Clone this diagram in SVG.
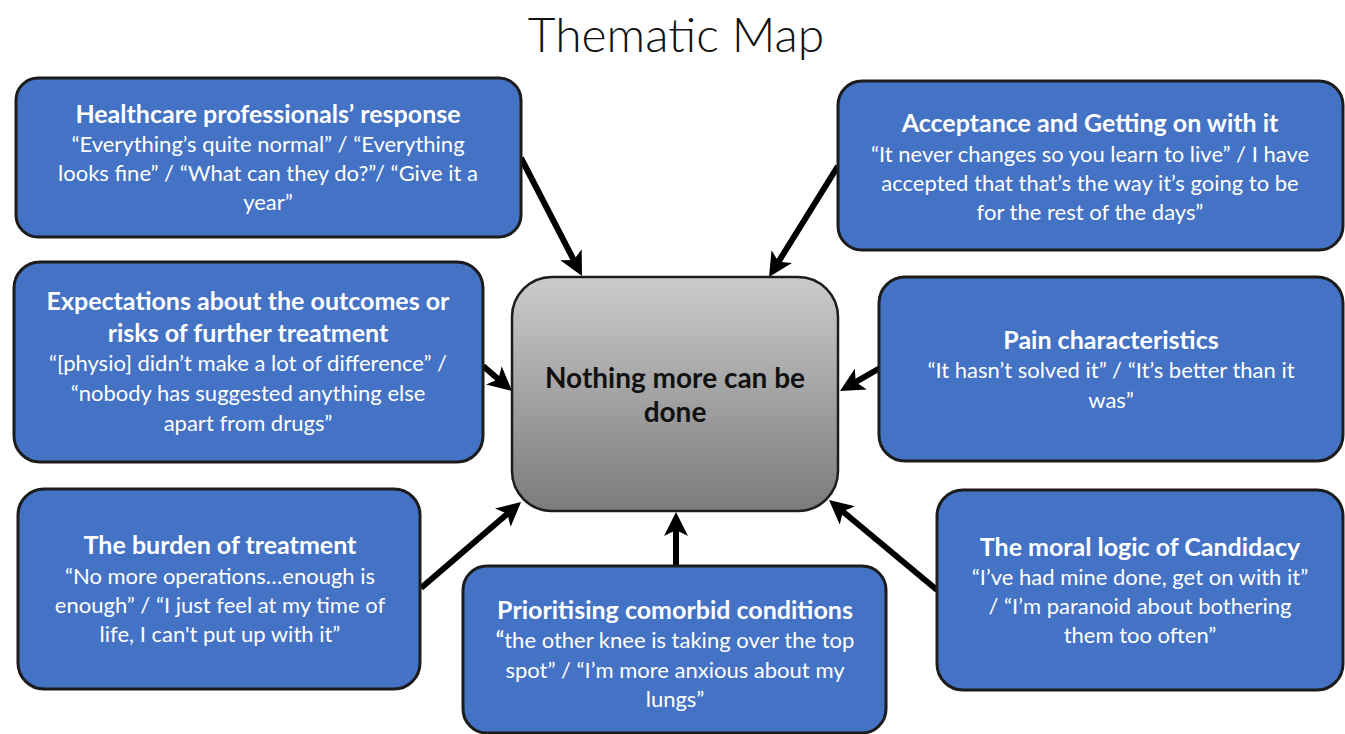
<svg xmlns="http://www.w3.org/2000/svg" width="1345" height="734" viewBox="0 0 1345 734">
  <defs>
    <linearGradient id="coreFill" x1="0" y1="0" x2="0" y2="1">
      <stop offset="0" stop-color="#cbcbcb"/>
      <stop offset="1" stop-color="#7b7b7b"/>
    </linearGradient>
    <!-- notched head; line ends part-way inside it so the butt stays hidden -->
    <marker id="head" viewBox="0 0 10 10" refX="3" refY="5" markerWidth="4" markerHeight="4" orient="auto" markerUnits="strokeWidth">
      <path d="M0,0 L10,5 L0,10 L2.5,5 Z" fill="#000"/>
    </marker>
    <style>
      .theme { fill: #4472c4; stroke: #1c1c1c; stroke-width: 3; }
      .core { fill: url(#coreFill); stroke: #1c1c1c; stroke-width: 2.5; }
      .ttl { font-family: Lato, "Liberation Sans", sans-serif; font-weight: 700; font-size: 25px; fill: #ffffff; text-anchor: middle; }
      .txt { font-family: Lato, "Liberation Sans", sans-serif; font-size: 22px; fill: #ffffff; text-anchor: middle; }
      .b { font-weight: 700; }
      .coretxt { font-family: Lato, "Liberation Sans", sans-serif; font-weight: 700; font-size: 28px; fill: #111111; text-anchor: middle; }
      .heading { font-family: Lato, "Liberation Sans", sans-serif; font-weight: 300; font-size: 48px; fill: #111111; text-anchor: middle; }
      .link { stroke: #000; stroke-width: 6; fill: none; marker-end: url(#head); }
    </style>
  </defs>

  <rect width="1345" height="734" fill="#ffffff"/>

  <text class="heading" x="676" y="52">Thematic Map</text>

  <!-- connectors: every theme points into the core box -->
  <g id="connectors">
    <line class="link" x1="521" y1="158" x2="574.3" y2="261.1"/>
    <line class="link" x1="838" y1="166" x2="777.9" y2="262.7"/>
    <line class="link" x1="483" y1="366" x2="499.3" y2="380"/>
    <line class="link" x1="880" y1="368" x2="854.6" y2="382.6"/>
    <line class="link" x1="421" y1="588" x2="508.3" y2="513"/>
    <line class="link" x1="676" y1="566" x2="676" y2="528.8"/>
    <line class="link" x1="937" y1="590" x2="841.9" y2="510.8"/>
  </g>

  <g id="core">
    <rect class="core" x="512" y="277" width="326" height="234" rx="40"/>
    <text class="coretxt" x="675" y="388">Nothing more can be</text>
    <text class="coretxt" x="675" y="422">done</text>
  </g>

  <g id="healthcare">
    <rect class="theme" x="16" y="78" width="505" height="159" rx="22"/>
    <text class="ttl" x="268" y="123">Healthcare professionals’ response</text>
    <text class="txt" x="268" y="152">“Everything’s quite normal” / “Everything</text>
    <text class="txt" x="268" y="181">looks fine” / “What can they do?”/ “Give it a</text>
    <text class="txt" x="268" y="210">year”</text>
  </g>

  <g id="acceptance">
    <rect class="theme" x="838" y="81" width="505" height="169" rx="24"/>
    <text class="ttl" x="1090" y="132">Acceptance and Getting on with it</text>
    <text class="txt" x="1090" y="162">“It never changes so you learn to live” / I have</text>
    <text class="txt" x="1090" y="191">accepted that that’s the way it’s going to be</text>
    <text class="txt" x="1090" y="220">for the rest of the days”</text>
  </g>

  <g id="expectations">
    <rect class="theme" x="14" y="262" width="469" height="200" rx="26"/>
    <text class="ttl" x="248" y="310">Expectations about the outcomes or</text>
    <text class="ttl" x="248" y="342">risks of further treatment</text>
    <text class="txt" x="248" y="371">“[physio] didn’t make a lot of difference” /</text>
    <text class="txt" x="248" y="401">“nobody has suggested anything else</text>
    <text class="txt" x="248" y="431">apart from drugs”</text>
  </g>

  <g id="pain">
    <rect class="theme" x="879" y="277" width="464" height="184" rx="26"/>
    <text class="ttl" x="1111" y="349">Pain characteristics</text>
    <text class="txt" x="1111" y="378">“It hasn’t solved it” / “It’s better than it</text>
    <text class="txt" x="1111" y="408">was”</text>
  </g>

  <g id="burden">
    <rect class="theme" x="18" y="489" width="402" height="200" rx="26"/>
    <text class="ttl" x="220" y="554">The burden of treatment</text>
    <text class="txt" x="220" y="584">“No more operations…enough is</text>
    <text class="txt" x="220" y="613">enough” / “I just feel at my time of</text>
    <text class="txt" x="220" y="642">life, I can't put up with it”</text>
  </g>

  <g id="comorbid">
    <rect class="theme" x="463" y="566" width="423" height="167" rx="24"/>
    <text class="ttl" x="675" y="619">Prioritising comorbid conditions</text>
    <text class="txt" x="675" y="648"><tspan class="b">“</tspan>the other knee is taking over the top</text>
    <text class="txt" x="675" y="678">spot” / “I’m more anxious about my</text>
    <text class="txt" x="675" y="707">lungs”</text>
  </g>

  <g id="candidacy">
    <rect class="theme" x="937" y="490" width="406" height="200" rx="26"/>
    <text class="ttl" x="1140" y="556">The moral logic of Candidacy</text>
    <text class="txt" x="1140" y="585">“I’ve had mine done, get on with it”</text>
    <text class="txt" x="1140" y="614">/ “I’m paranoid about bothering</text>
    <text class="txt" x="1140" y="643">them too often”</text>
  </g>
</svg>
